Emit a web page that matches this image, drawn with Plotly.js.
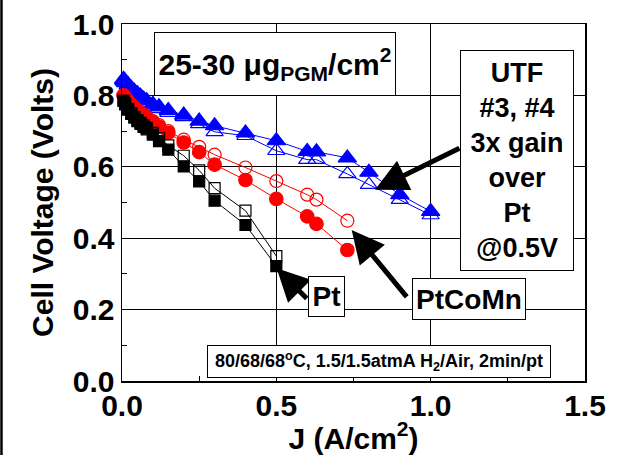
<!DOCTYPE html>
<html>
<head>
<meta charset="utf-8">
<script src="https://cdn.plot.ly/plotly-3.0.1.min.js"></script>
<style>html,body{margin:0;padding:0;background:#fff;}#chart{width:619px;height:455px;}</style>
</head>
<body>
<div id="chart"></div>
<script>
// Current density J (A/cm2)
var jPtCoMnUTF = [0.005,0.01,0.02,0.03,0.04,0.05,0.06,0.07,0.08,0.1,0.12,0.15,0.2,0.25,0.3,0.4,0.5,0.6,0.63,0.73,0.8,0.9,1.0];
var vUTF3 = [0.845,0.84,0.83,0.82,0.812,0.805,0.798,0.79,0.785,0.775,0.768,0.758,0.745,0.728,0.715,0.695,0.673,0.643,0.642,0.625,0.585,0.522,0.475];
var vUTF4 = [0.84,0.835,0.825,0.815,0.808,0.8,0.793,0.786,0.78,0.77,0.762,0.752,0.74,0.72,0.698,0.687,0.645,0.62,0.62,0.58,0.55,0.508,0.465];

var jPtCoMn = [0.005,0.01,0.02,0.03,0.04,0.05,0.06,0.07,0.08,0.1,0.12,0.15,0.2,0.25,0.3,0.4,0.5,0.6,0.63,0.73];
var vPtCoMnA = [0.8,0.795,0.783,0.773,0.765,0.757,0.75,0.743,0.737,0.725,0.712,0.695,0.668,0.641,0.606,0.563,0.51,0.461,0.44,0.367];
var vPtCoMnB = [0.8,0.795,0.784,0.775,0.767,0.76,0.753,0.746,0.74,0.728,0.717,0.7,0.676,0.656,0.634,0.598,0.56,0.522,0.508,0.449];

var jPt = [0.005,0.01,0.02,0.03,0.04,0.05,0.06,0.07,0.08,0.1,0.12,0.15,0.2,0.25,0.3,0.4,0.5];
var vPtA = [0.785,0.775,0.76,0.748,0.738,0.728,0.72,0.712,0.705,0.69,0.672,0.648,0.601,0.559,0.505,0.437,0.322];
var vPtB = [0.785,0.776,0.762,0.75,0.74,0.731,0.723,0.716,0.709,0.695,0.68,0.66,0.631,0.59,0.54,0.477,0.35];

var xTickVals = [0, 0.5, 1.0, 1.5];
var yTickVals = [0, 0.2, 0.4, 0.6, 0.8, 1.0];

var FONT = 'Liberation Sans, Arial, Helvetica, sans-serif';

function tr(x, y, color, symbol, size, name) {
  return {
    x: x, y: y, type: 'scatter', mode: 'lines+markers', name: name,
    line: {color: color, width: 1},
    marker: {color: color, symbol: symbol, size: size, line: {color: color, width: 1.2}},
    showlegend: false, cliponaxis: false
  };
}

var data = [
  tr(jPtCoMnUTF, vUTF4, '#0000ff', 'triangle-up-open', 15, 'UTF #4'),
  tr(jPtCoMnUTF, vUTF3, '#0000ff', 'triangle-up', 16, 'UTF #3'),
  tr(jPtCoMn, vPtCoMnB, '#ff0000', 'circle-open', 13, 'PtCoMn B'),
  tr(jPtCoMn, vPtCoMnA, '#ff0000', 'circle', 13.5, 'PtCoMn A'),
  tr(jPt, vPtB, '#000000', 'square-open', 11, 'Pt B'),
  tr(jPt, vPtA, '#000000', 'square', 11, 'Pt A')
];

function box(text, x, y, size, w, h) {
  var a = {text: text, x: x, y: y, xref: 'x', yref: 'y', showarrow: false,
    xanchor: 'center', yanchor: 'middle', align: 'center', valign: 'middle',
    font: {family: FONT, size: size, color: '#000', weight: 'bold'},
    bgcolor: '#ffffff', bordercolor: '#000000', borderwidth: 1, borderpad: 2};
  if (w) a.width = w;
  if (h) a.height = h;
  return a;
}
function arrow(x, y, ax, ay) {
  return {text: '', x: x, y: y, ax: ax, ay: ay, xref: 'x', yref: 'y', axref: 'x', ayref: 'y',
    showarrow: true, arrowhead: 2, arrowsize: 1.3, arrowwidth: 5, arrowcolor: '#000', standoff: 0};
}

var layout = {
  width: 619, height: 455,
  margin: {l: 122, r: 34, t: 24, b: 74},
  paper_bgcolor: '#ffffff', plot_bgcolor: '#ffffff',
  font: {family: FONT, color: '#000'},
  xaxis: {
    range: [0, 1.5], tickvals: xTickVals, tickformat: '.1f',
    ticks: 'inside', ticklen: 5, tickcolor: '#000', ticklabelstandoff: -3,
    showgrid: true, gridcolor: '#000', gridwidth: 1,
    showline: true, linecolor: '#000', linewidth: 1.5, mirror: true, zeroline: false,
    tickfont: {family: FONT, size: 30, color: '#000', weight: 'bold'},
    minor: {tickvals: [0.25, 0.75, 1.25], ticks: 'inside', ticklen: 5, tickcolor: '#000', showgrid: false},
    title: {text: 'J (A/cm<sup>2</sup>)', font: {family: FONT, size: 30, color: '#000', weight: 'bold'}, standoff: 10}
  },
  yaxis: {
    range: [0, 1.0], tickvals: yTickVals, tickformat: '.1f',
    ticks: 'inside', ticklen: 5, tickcolor: '#000',
    showgrid: true, gridcolor: '#000', gridwidth: 1,
    showline: true, linecolor: '#000', linewidth: 1.5, mirror: true, zeroline: false,
    tickfont: {family: FONT, size: 30, color: '#000', weight: 'bold'},
    minor: {tickvals: [0.1, 0.3, 0.5, 0.7, 0.9], ticks: 'inside', ticklen: 5, tickcolor: '#000', showgrid: false},
    title: {text: 'Cell Voltage (Volts)', font: {family: FONT, size: 30, color: '#000', weight: 'bold'}, standoff: 10}
  },
  shapes: [
    {type: 'line', xref: 'paper', yref: 'paper', x0: -0.2603, x1: -0.2603, y0: -0.25, y1: 1.1,
     line: {color: '#000', width: 2.5}}
  ],
  annotations: [
    arrow(0.8196, 0.5357, 1.098, 0.6537),
    arrow(0.744, 0.423, 0.9265, 0.2315),
    arrow(0.501, 0.3157, 0.6035, 0.2267),
    box('25-30 \u03bcg<sub>PGM</sub>/cm<sup>2</sup>', 0.497, 0.887, 30, 236, 58),
    box('UTF<br>#3, #4<br>3x gain<br>over<br>Pt<br>@0.5V', 1.281, 0.617, 27, 108, 215),
    box('Pt', 0.664, 0.236, 28, 31, 35),
    box('PtCoMn', 1.124, 0.230, 28, 108, 36),
    box('80/68/68<sup>o</sup>C, 1.5/1.5atmA H<sub>2</sub>/Air, 2min/pt', 0.8325, 0.055, 18, 338, 27)
  ]
};

Plotly.newPlot('chart', data, layout, {staticPlot: true, displayModeBar: false});
</script>
</body>
</html>
